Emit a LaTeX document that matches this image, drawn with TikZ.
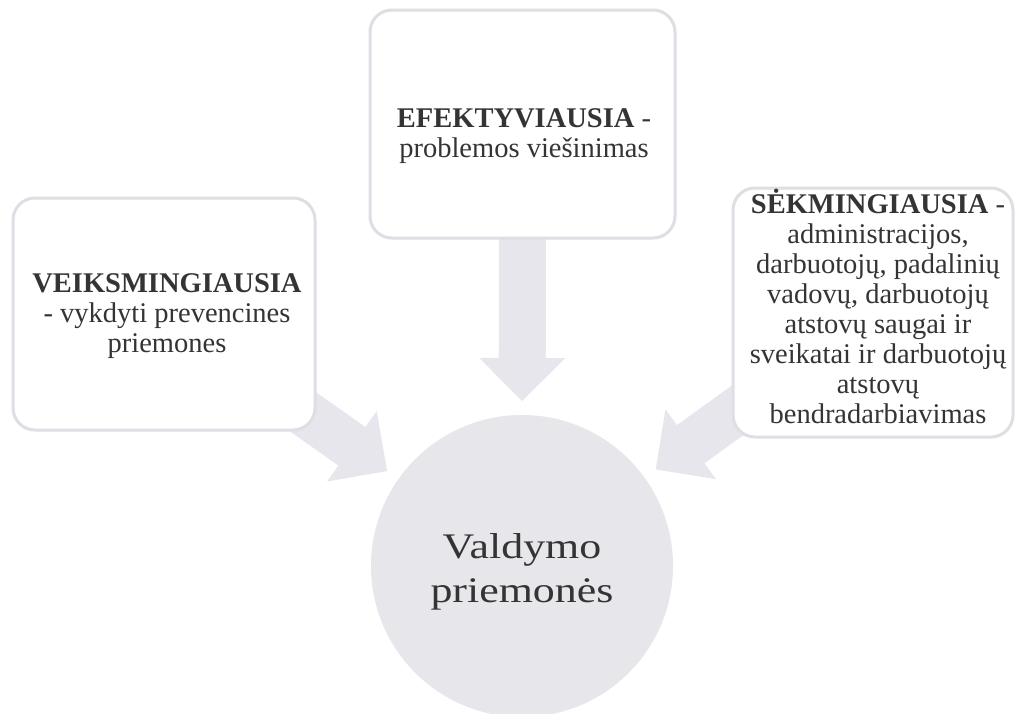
\documentclass[tikz,border=0pt]{standalone}
\usepackage{fontspec}
\setmainfont{Liberation Serif}
\newfontfamily\boxfont{Liberation Serif}
\newfontfamily\circfont[FakeStretch=1.22]{Liberation Serif}
\usetikzlibrary{calc,backgrounds}
\definecolor{arrowgray}{RGB}{230,230,236}
\definecolor{circlegray}{RGB}{230,230,235}
\definecolor{bordergray}{RGB}{222,222,228}
\definecolor{textgray}{RGB}{52,52,52}
\tikzset{
  boxshape/.style={draw=bordergray, line width=3pt, fill=white, rounded corners=22pt, inner sep=0pt},
  boxtext/.style={align=center, text=textgray, inner sep=0pt, font=\boxfont\fontsize{28.5}{30}\selectfont},
  circtext/.style={align=center, text=textgray, inner sep=0pt, font=\circfont\fontsize{36}{44}\selectfont},
  arrowfill/.style={fill=arrowgray}
}
\newcommand\blockarrow[3]{%
  \coordinate (#3b) at ($(#2)!43pt!(#1)$);
  \fill[arrowfill] ($(#1)!23.5pt!90:(#2)$) -- ($(#3b)!23.5pt!90:(#2)$) -- ($(#3b)!43pt!90:(#2)$) -- (#2)
    -- ($(#3b)!43pt!-90:(#2)$) -- ($(#3b)!23.5pt!-90:(#2)$) -- ($(#1)!23.5pt!-90:(#2)$) -- cycle;
}
\begin{document}
\begin{tikzpicture}[x=1pt, y=-1pt]
\useasboundingbox (0,0) rectangle (1025,713);
% boxes
\node[boxshape, minimum width=302pt, minimum height=232pt] (lbox) at (164,314) {};
\node[boxshape, minimum width=305pt, minimum height=228pt] (tbox) at (522.5,124) {};
\node[boxshape, minimum width=280pt, minimum height=249pt] (rbox) at (873,312.5) {};
% circle
\node[circle, fill=circlegray, minimum size=302pt, inner sep=0pt] (circ) at (522,566) {};
% arrow tips
\coordinate (ltip) at ($(circ.center)!165pt!(lbox.center)$);
\coordinate (ttip) at ($(circ.center)!165pt!(tbox.center)$);
\coordinate (rtip) at ($(circ.center)!165pt!(rbox.center)$);
\begin{pgfonlayer}{background}
\fill[white] (0,0) rectangle (1025,713);
\blockarrow{lbox.center}{ltip}{la}
\blockarrow{tbox.center}{ttip}{ta}
\blockarrow{rbox.center}{rtip}{ra}
\end{pgfonlayer}
% texts
\node[boxtext] (ltext) at (167,316.5) {\textbf{VEIKSMINGIAUSIA}\\- vykdyti prevencines\\priemones};
\node[boxtext] (ttext) at (524,136) {\textbf{EFEKTYVIAUSIA} -\\problemos viešinimas};
\node[boxtext] (rtext) at (878,306) {\textbf{SĖKMINGIAUSIA} -\\administracijos,\\darbuotojų, padalinių\\vadovų, darbuotojų\\atstovų saugai ir\\sveikatai ir darbuotojų\\atstovų\\bendradarbiavimas};
\node[circtext] (ctext) at (522,572) {Valdymo\\priemonės};
\end{tikzpicture}
\end{document}
